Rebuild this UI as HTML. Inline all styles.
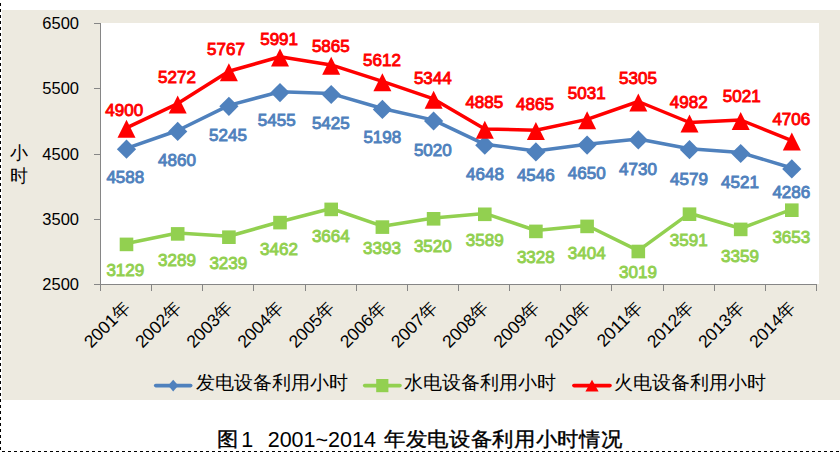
<!DOCTYPE html><html><head><meta charset="utf-8"><style>html,body{margin:0;padding:0;background:#fff;}svg{display:block;font-family:"Liberation Sans",sans-serif;}</style></head><body>
<svg width="840" height="452" viewBox="0 0 840 452">
<rect x="0" y="0" width="840" height="452" fill="#fff"/>
<rect x="2" y="10" width="838" height="390" fill="#EDEAE0"/>
<line x1="0.5" y1="3" x2="0.5" y2="452" stroke="#000" stroke-width="1" stroke-dasharray="3 3"/>
<line x1="2" y1="451.5" x2="840" y2="451.5" stroke="#000" stroke-width="1" stroke-dasharray="3 3"/>
<rect x="101" y="23" width="718" height="261" fill="#fff"/>
<line x1="100.5" y1="23" x2="100.5" y2="291" stroke="#868686" stroke-width="1"/>
<line x1="94" y1="284.5" x2="817" y2="284.5" stroke="#868686" stroke-width="1"/>
<line x1="94" y1="23.5" x2="100.5" y2="23.5" stroke="#868686" stroke-width="1"/>
<line x1="94" y1="88.5" x2="100.5" y2="88.5" stroke="#868686" stroke-width="1"/>
<line x1="94" y1="154.5" x2="100.5" y2="154.5" stroke="#868686" stroke-width="1"/>
<line x1="94" y1="219.5" x2="100.5" y2="219.5" stroke="#868686" stroke-width="1"/>
<line x1="151.5" y1="284" x2="151.5" y2="291" stroke="#868686" stroke-width="1"/>
<line x1="202.5" y1="284" x2="202.5" y2="291" stroke="#868686" stroke-width="1"/>
<line x1="253.5" y1="284" x2="253.5" y2="291" stroke="#868686" stroke-width="1"/>
<line x1="305.5" y1="284" x2="305.5" y2="291" stroke="#868686" stroke-width="1"/>
<line x1="356.5" y1="284" x2="356.5" y2="291" stroke="#868686" stroke-width="1"/>
<line x1="407.5" y1="284" x2="407.5" y2="291" stroke="#868686" stroke-width="1"/>
<line x1="458.5" y1="284" x2="458.5" y2="291" stroke="#868686" stroke-width="1"/>
<line x1="509.5" y1="284" x2="509.5" y2="291" stroke="#868686" stroke-width="1"/>
<line x1="560.5" y1="284" x2="560.5" y2="291" stroke="#868686" stroke-width="1"/>
<line x1="611.5" y1="284" x2="611.5" y2="291" stroke="#868686" stroke-width="1"/>
<line x1="663.5" y1="284" x2="663.5" y2="291" stroke="#868686" stroke-width="1"/>
<line x1="714.5" y1="284" x2="714.5" y2="291" stroke="#868686" stroke-width="1"/>
<line x1="765.5" y1="284" x2="765.5" y2="291" stroke="#868686" stroke-width="1"/>
<line x1="816.5" y1="284" x2="816.5" y2="291" stroke="#868686" stroke-width="1"/>
<text x="79" y="29.0" font-size="16.5" text-anchor="end" fill="#000">6500</text>
<text x="79" y="94.2" font-size="16.5" text-anchor="end" fill="#000">5500</text>
<text x="79" y="159.5" font-size="16.5" text-anchor="end" fill="#000">4500</text>
<text x="79" y="224.8" font-size="16.5" text-anchor="end" fill="#000">3500</text>
<text x="79" y="290.0" font-size="16.5" text-anchor="end" fill="#000">2500</text>
<text x="9.8" y="159" font-size="18" fill="#000">小</text>
<text x="9.8" y="181.8" font-size="18" fill="#000">时</text>
<text x="131.5" y="308.5" font-size="17.5" text-anchor="end" transform="rotate(-45 131.5 308.5)" fill="#000">2001年</text>
<text x="182.7" y="308.5" font-size="17.5" text-anchor="end" transform="rotate(-45 182.7 308.5)" fill="#000">2002年</text>
<text x="233.9" y="308.5" font-size="17.5" text-anchor="end" transform="rotate(-45 233.9 308.5)" fill="#000">2003年</text>
<text x="285.0" y="308.5" font-size="17.5" text-anchor="end" transform="rotate(-45 285.0 308.5)" fill="#000">2004年</text>
<text x="336.2" y="308.5" font-size="17.5" text-anchor="end" transform="rotate(-45 336.2 308.5)" fill="#000">2005年</text>
<text x="387.4" y="308.5" font-size="17.5" text-anchor="end" transform="rotate(-45 387.4 308.5)" fill="#000">2006年</text>
<text x="438.6" y="308.5" font-size="17.5" text-anchor="end" transform="rotate(-45 438.6 308.5)" fill="#000">2007年</text>
<text x="489.8" y="308.5" font-size="17.5" text-anchor="end" transform="rotate(-45 489.8 308.5)" fill="#000">2008年</text>
<text x="540.9" y="308.5" font-size="17.5" text-anchor="end" transform="rotate(-45 540.9 308.5)" fill="#000">2009年</text>
<text x="592.1" y="308.5" font-size="17.5" text-anchor="end" transform="rotate(-45 592.1 308.5)" fill="#000">2010年</text>
<text x="643.3" y="308.5" font-size="17.5" text-anchor="end" transform="rotate(-45 643.3 308.5)" fill="#000">2011年</text>
<text x="694.5" y="308.5" font-size="17.5" text-anchor="end" transform="rotate(-45 694.5 308.5)" fill="#000">2012年</text>
<text x="745.7" y="308.5" font-size="17.5" text-anchor="end" transform="rotate(-45 745.7 308.5)" fill="#000">2013年</text>
<text x="796.8" y="308.5" font-size="17.5" text-anchor="end" transform="rotate(-45 796.8 308.5)" fill="#000">2014年</text>
<polyline points="126.5,243.5 177.7,233.0 228.9,236.3 280.0,221.7 331.2,208.5 382.4,226.2 433.6,217.9 484.8,213.4 535.9,230.5 587.1,225.5 638.3,250.6 689.5,213.3 740.7,228.5 791.8,209.3" fill="none" stroke="#92D050" stroke-width="3.5" stroke-linejoin="round"/>
<polyline points="126.5,148.3 177.7,130.5 228.9,105.4 280.0,91.7 331.2,93.6 382.4,108.5 433.6,120.1 484.8,144.3 535.9,151.0 587.1,144.2 638.3,139.0 689.5,148.8 740.7,152.6 791.8,168.0" fill="none" stroke="#4F81BD" stroke-width="3.5" stroke-linejoin="round"/>
<polyline points="126.5,127.9 177.7,103.6 228.9,71.3 280.0,56.7 331.2,64.9 382.4,81.4 433.6,98.9 484.8,128.9 535.9,130.2 587.1,119.4 638.3,101.5 689.5,122.5 740.7,120.0 791.8,140.6" fill="none" stroke="#FF0000" stroke-width="3.5" stroke-linejoin="round"/>
<rect x="119.7" y="237.6" width="13.6" height="13.6" fill="#92D050"/>
<rect x="170.9" y="227.1" width="13.6" height="13.6" fill="#92D050"/>
<rect x="222.1" y="230.4" width="13.6" height="13.6" fill="#92D050"/>
<rect x="273.2" y="215.8" width="13.6" height="13.6" fill="#92D050"/>
<rect x="324.4" y="202.6" width="13.6" height="13.6" fill="#92D050"/>
<rect x="375.6" y="220.3" width="13.6" height="13.6" fill="#92D050"/>
<rect x="426.8" y="212.0" width="13.6" height="13.6" fill="#92D050"/>
<rect x="478.0" y="207.5" width="13.6" height="13.6" fill="#92D050"/>
<rect x="529.1" y="224.6" width="13.6" height="13.6" fill="#92D050"/>
<rect x="580.3" y="219.6" width="13.6" height="13.6" fill="#92D050"/>
<rect x="631.5" y="244.7" width="13.6" height="13.6" fill="#92D050"/>
<rect x="682.7" y="207.4" width="13.6" height="13.6" fill="#92D050"/>
<rect x="733.9" y="222.6" width="13.6" height="13.6" fill="#92D050"/>
<rect x="785.0" y="203.4" width="13.6" height="13.6" fill="#92D050"/>
<polygon points="126.5,139.6 136.1,149.2 126.5,158.8 116.9,149.2" fill="#4F81BD"/>
<polygon points="177.7,121.8 187.3,131.4 177.7,141.0 168.1,131.4" fill="#4F81BD"/>
<polygon points="228.9,96.7 238.5,106.3 228.9,115.9 219.3,106.3" fill="#4F81BD"/>
<polygon points="280.0,83.0 289.6,92.6 280.0,102.2 270.4,92.6" fill="#4F81BD"/>
<polygon points="331.2,84.9 340.8,94.5 331.2,104.1 321.6,94.5" fill="#4F81BD"/>
<polygon points="382.4,99.8 392.0,109.4 382.4,119.0 372.8,109.4" fill="#4F81BD"/>
<polygon points="433.6,111.4 443.2,121.0 433.6,130.6 424.0,121.0" fill="#4F81BD"/>
<polygon points="484.8,135.6 494.4,145.2 484.8,154.8 475.2,145.2" fill="#4F81BD"/>
<polygon points="535.9,142.3 545.5,151.9 535.9,161.5 526.3,151.9" fill="#4F81BD"/>
<polygon points="587.1,135.5 596.7,145.1 587.1,154.7 577.5,145.1" fill="#4F81BD"/>
<polygon points="638.3,130.3 647.9,139.9 638.3,149.5 628.7,139.9" fill="#4F81BD"/>
<polygon points="689.5,140.1 699.1,149.7 689.5,159.3 679.9,149.7" fill="#4F81BD"/>
<polygon points="740.7,143.9 750.3,153.5 740.7,163.1 731.1,153.5" fill="#4F81BD"/>
<polygon points="791.8,159.3 801.4,168.9 791.8,178.5 782.2,168.9" fill="#4F81BD"/>
<polygon points="126.5,119.8 135.5,137.8 117.5,137.8" fill="#FF0000"/>
<polygon points="177.7,95.5 186.7,113.5 168.7,113.5" fill="#FF0000"/>
<polygon points="228.9,63.2 237.9,81.2 219.9,81.2" fill="#FF0000"/>
<polygon points="280.0,48.6 289.0,66.6 271.0,66.6" fill="#FF0000"/>
<polygon points="331.2,56.8 340.2,74.8 322.2,74.8" fill="#FF0000"/>
<polygon points="382.4,73.3 391.4,91.3 373.4,91.3" fill="#FF0000"/>
<polygon points="433.6,90.8 442.6,108.8 424.6,108.8" fill="#FF0000"/>
<polygon points="484.8,120.8 493.8,138.8 475.8,138.8" fill="#FF0000"/>
<polygon points="535.9,122.1 544.9,140.1 526.9,140.1" fill="#FF0000"/>
<polygon points="587.1,111.3 596.1,129.3 578.1,129.3" fill="#FF0000"/>
<polygon points="638.3,93.4 647.3,111.4 629.3,111.4" fill="#FF0000"/>
<polygon points="689.5,114.4 698.5,132.4 680.5,132.4" fill="#FF0000"/>
<polygon points="740.7,111.9 749.7,129.9 731.7,129.9" fill="#FF0000"/>
<polygon points="791.8,132.5 800.8,150.5 782.8,150.5" fill="#FF0000"/>
<text transform="translate(124.2 116.40) scale(1 1.0)" font-size="17" text-anchor="middle" fill="#FF0000" stroke="#FF0000" stroke-width="0.9">4900</text>
<text transform="translate(177.0 82.90) scale(1 1.0)" font-size="17" text-anchor="middle" fill="#FF0000" stroke="#FF0000" stroke-width="0.9">5272</text>
<text transform="translate(226.0 54.80) scale(1 1.0)" font-size="17" text-anchor="middle" fill="#FF0000" stroke="#FF0000" stroke-width="0.9">5767</text>
<text transform="translate(279.1 45.40) scale(1 1.0)" font-size="17" text-anchor="middle" fill="#FF0000" stroke="#FF0000" stroke-width="0.9">5991</text>
<text transform="translate(330.8 52.10) scale(1 1.0)" font-size="17" text-anchor="middle" fill="#FF0000" stroke="#FF0000" stroke-width="0.9">5865</text>
<text transform="translate(382.0 66.30) scale(1 1.0)" font-size="17" text-anchor="middle" fill="#FF0000" stroke="#FF0000" stroke-width="0.9">5612</text>
<text transform="translate(432.8 84.10) scale(1 1.0)" font-size="17" text-anchor="middle" fill="#FF0000" stroke="#FF0000" stroke-width="0.9">5344</text>
<text transform="translate(484.3 107.80) scale(1 1.0)" font-size="17" text-anchor="middle" fill="#FF0000" stroke="#FF0000" stroke-width="0.9">4885</text>
<text transform="translate(535.0 109.60) scale(1 1.0)" font-size="17" text-anchor="middle" fill="#FF0000" stroke="#FF0000" stroke-width="0.9">4865</text>
<text transform="translate(586.7 98.60) scale(1 1.0)" font-size="17" text-anchor="middle" fill="#FF0000" stroke="#FF0000" stroke-width="0.9">5031</text>
<text transform="translate(638.0 84.10) scale(1 1.0)" font-size="17" text-anchor="middle" fill="#FF0000" stroke="#FF0000" stroke-width="0.9">5305</text>
<text transform="translate(688.7 107.80) scale(1 1.0)" font-size="17" text-anchor="middle" fill="#FF0000" stroke="#FF0000" stroke-width="0.9">4982</text>
<text transform="translate(741.7 101.60) scale(1 1.0)" font-size="17" text-anchor="middle" fill="#FF0000" stroke="#FF0000" stroke-width="0.9">5021</text>
<text transform="translate(791.3 124.50) scale(1 1.0)" font-size="17" text-anchor="middle" fill="#FF0000" stroke="#FF0000" stroke-width="0.9">4706</text>
<text transform="translate(125.3 183.10) scale(1 1.0)" font-size="17" text-anchor="middle" fill="#4F81BD" stroke="#4F81BD" stroke-width="0.9">4588</text>
<text transform="translate(177.0 166.10) scale(1 1.0)" font-size="17" text-anchor="middle" fill="#4F81BD" stroke="#4F81BD" stroke-width="0.9">4860</text>
<text transform="translate(228.0 141.30) scale(1 1.0)" font-size="17" text-anchor="middle" fill="#4F81BD" stroke="#4F81BD" stroke-width="0.9">5245</text>
<text transform="translate(276.7 125.50) scale(1 1.0)" font-size="17" text-anchor="middle" fill="#4F81BD" stroke="#4F81BD" stroke-width="0.9">5455</text>
<text transform="translate(330.8 129.10) scale(1 1.0)" font-size="17" text-anchor="middle" fill="#4F81BD" stroke="#4F81BD" stroke-width="0.9">5425</text>
<text transform="translate(382.3 143.30) scale(1 1.0)" font-size="17" text-anchor="middle" fill="#4F81BD" stroke="#4F81BD" stroke-width="0.9">5198</text>
<text transform="translate(432.8 156.30) scale(1 1.0)" font-size="17" text-anchor="middle" fill="#4F81BD" stroke="#4F81BD" stroke-width="0.9">5020</text>
<text transform="translate(485.0 180.00) scale(1 1.0)" font-size="17" text-anchor="middle" fill="#4F81BD" stroke="#4F81BD" stroke-width="0.9">4648</text>
<text transform="translate(535.8 181.30) scale(1 1.0)" font-size="17" text-anchor="middle" fill="#4F81BD" stroke="#4F81BD" stroke-width="0.9">4546</text>
<text transform="translate(586.7 179.10) scale(1 1.0)" font-size="17" text-anchor="middle" fill="#4F81BD" stroke="#4F81BD" stroke-width="0.9">4650</text>
<text transform="translate(638.0 175.00) scale(1 1.0)" font-size="17" text-anchor="middle" fill="#4F81BD" stroke="#4F81BD" stroke-width="0.9">4730</text>
<text transform="translate(689.0 184.60) scale(1 1.0)" font-size="17" text-anchor="middle" fill="#4F81BD" stroke="#4F81BD" stroke-width="0.9">4579</text>
<text transform="translate(740.0 188.30) scale(1 1.0)" font-size="17" text-anchor="middle" fill="#4F81BD" stroke="#4F81BD" stroke-width="0.9">4521</text>
<text transform="translate(791.3 198.30) scale(1 1.0)" font-size="17" text-anchor="middle" fill="#4F81BD" stroke="#4F81BD" stroke-width="0.9">4286</text>
<text transform="translate(125.3 276.10) scale(1 1.0)" font-size="17" text-anchor="middle" fill="#92D050" stroke="#92D050" stroke-width="0.9">3129</text>
<text transform="translate(177.0 265.80) scale(1 1.0)" font-size="17" text-anchor="middle" fill="#92D050" stroke="#92D050" stroke-width="0.9">3289</text>
<text transform="translate(228.3 268.80) scale(1 1.0)" font-size="17" text-anchor="middle" fill="#92D050" stroke="#92D050" stroke-width="0.9">3239</text>
<text transform="translate(279.0 254.60) scale(1 1.0)" font-size="17" text-anchor="middle" fill="#92D050" stroke="#92D050" stroke-width="0.9">3462</text>
<text transform="translate(330.8 242.00) scale(1 1.0)" font-size="17" text-anchor="middle" fill="#92D050" stroke="#92D050" stroke-width="0.9">3664</text>
<text transform="translate(382.0 253.60) scale(1 1.0)" font-size="17" text-anchor="middle" fill="#92D050" stroke="#92D050" stroke-width="0.9">3393</text>
<text transform="translate(432.8 251.60) scale(1 1.0)" font-size="17" text-anchor="middle" fill="#92D050" stroke="#92D050" stroke-width="0.9">3520</text>
<text transform="translate(484.7 245.80) scale(1 1.0)" font-size="17" text-anchor="middle" fill="#92D050" stroke="#92D050" stroke-width="0.9">3589</text>
<text transform="translate(535.8 262.80) scale(1 1.0)" font-size="17" text-anchor="middle" fill="#92D050" stroke="#92D050" stroke-width="0.9">3328</text>
<text transform="translate(586.7 259.10) scale(1 1.0)" font-size="17" text-anchor="middle" fill="#92D050" stroke="#92D050" stroke-width="0.9">3404</text>
<text transform="translate(638.0 278.30) scale(1 1.0)" font-size="17" text-anchor="middle" fill="#92D050" stroke="#92D050" stroke-width="0.9">3019</text>
<text transform="translate(688.7 245.80) scale(1 1.0)" font-size="17" text-anchor="middle" fill="#92D050" stroke="#92D050" stroke-width="0.9">3591</text>
<text transform="translate(740.0 261.60) scale(1 1.0)" font-size="17" text-anchor="middle" fill="#92D050" stroke="#92D050" stroke-width="0.9">3359</text>
<text transform="translate(791.3 242.50) scale(1 1.0)" font-size="17" text-anchor="middle" fill="#92D050" stroke="#92D050" stroke-width="0.9">3653</text>
<line x1="155.70000000000002" y1="385.6" x2="190.7" y2="385.6" stroke="#4F81BD" stroke-width="3.6" stroke-linecap="round"/>
<polygon points="173.2,379.8 178.3,385.6 173.2,391.4 168.1,385.6" fill="#4F81BD"/>
<text x="195.5" y="388.5" font-size="18.5" fill="#000">发电设备利用小时</text>
<line x1="364.7" y1="385.6" x2="400.0" y2="385.6" stroke="#92D050" stroke-width="3.6" stroke-linecap="round"/>
<rect x="376.2" y="379.0" width="12.2" height="13.2" fill="#92D050"/>
<text x="404" y="388.5" font-size="18.5" fill="#000">水电设备利用小时</text>
<line x1="573.9" y1="385.6" x2="610.0" y2="385.6" stroke="#FF0000" stroke-width="3.6" stroke-linecap="round"/>
<polygon points="592.0,379.7 598.6,391.6 585.4,391.6" fill="#FF0000"/>
<text x="614" y="388.5" font-size="18.5" fill="#000">火电设备利用小时</text>
<text y="447" font-size="21.5" fill="#000"><tspan x="241.3">1</tspan><tspan x="267.7">2001~2014</tspan></text>
<text transform="translate(216.5 445.8) scale(0.99 0.93)" font-size="21.5" fill="#000" stroke="#000" stroke-width="0.4">图</text>
<text transform="translate(384 445.8) scale(0.992 0.93)" font-size="21.5" fill="#000" stroke="#000" stroke-width="0.4">年发电设备利用小时情况</text>
</svg></body></html>
